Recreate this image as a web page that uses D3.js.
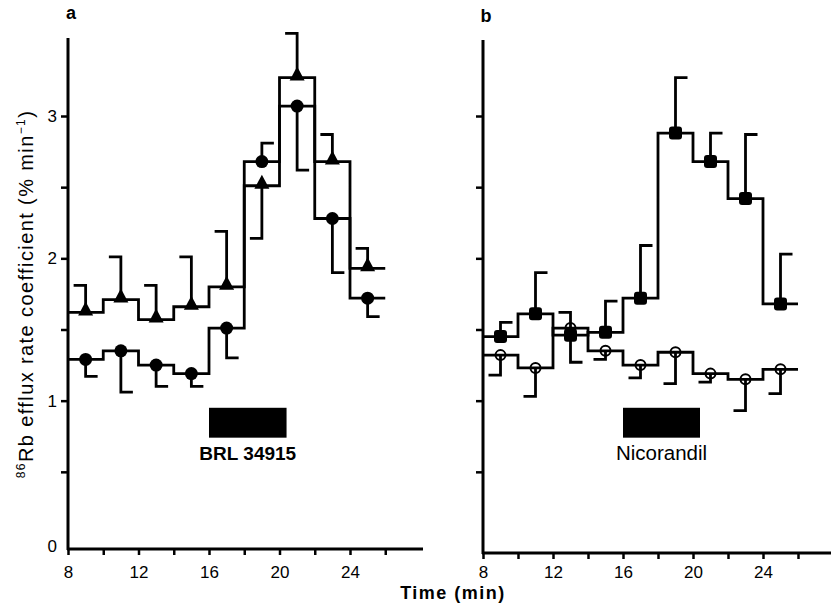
<!DOCTYPE html>
<html>
<head>
<meta charset="utf-8">
<script src="https://cdn.jsdelivr.net/npm/d3@7"></script>
<style>
  body { margin: 0; background: #fff; }
  svg { font-family: "Liberation Sans", Arial, sans-serif; }
</style>
</head>
<body>
<div id="chart"></div>
<script>
// sample times (min), each value covers a 2 min collection period centred on it
const minutes = [9, 11, 13, 15, 17, 19, 21, 23, 25]

// panel a, BRL 34915
const aTriangle = [1.62, 1.71, 1.57, 1.66, 1.80, 2.51, 3.27, 2.68, 1.93]
const aTriangleErr = [0.19, 0.30, 0.24, 0.35, 0.39, -0.37, 0.31, 0.19, 0.14] // sign = side of the bar
const aCircle = [1.29, 1.35, 1.25, 1.19, 1.51, 2.68, 3.07, 2.28, 1.72]
const aCircleErr = [-0.12, -0.29, -0.15, -0.09, -0.21, 0.13, -0.45, -0.38, -0.13]

// panel b, nicorandil
const bSquare = [1.45, 1.61, 1.46, 1.48, 1.72, 2.88, 2.68, 2.42, 1.68]
const bSquareErr = [0.10, 0.29, -0.19, 0.22, 0.37, 0.39, 0.20, 0.45, 0.35]
const bOpen = [1.32, 1.23, 1.51, 1.35, 1.25, 1.34, 1.19, 1.15, 1.22]
const bOpenErr = [-0.14, -0.20, 0.11, -0.06, -0.09, -0.22, -0.06, -0.22, -0.17]

// drug application bars: [start, end] in min, [bottom, top] in rate units
const drugTime = [16, 20.4]
const drugLevel = [0.74, 0.95]
const drugNames = ['BRL 34915', 'Nicorandil']

const xTicks = [8, 10, 12, 14, 16, 18, 20, 22, 24, 26]
const xLabels = [8, 12, 16, 20, 24]
const yTicks = [0.5, 1, 1.5, 2, 2.5, 3]
const yLabels = [0, 1, 2, 3]

const W = 831
const H = 613

const svg = d3.select('#chart').append('svg')
  .attr('width', W)
  .attr('height', H)

const y = d3.scaleLinear().domain([0, 3]).range([543, 116])

const panels = [
  {
    letter: 'a', letterX: 71, letterY: 19, left: 68, axisY: 549, top: 38, right: 423, xRight: 350,
    series: [
      { values: aCircle, err: aCircleErr, cap: 1, marker: 'circle' },
      { values: aTriangle, err: aTriangleErr, cap: -1, marker: 'triangle' }
    ],
    drug: drugNames[0], drugWeight: 'bold', drugSize: 19, labels: true
  },
  {
    letter: 'b', letterX: 486, letterY: 22, left: 483, axisY: 553, top: 40, right: 831, xRight: 763,
    series: [
      { values: bOpen, err: bOpenErr, cap: -1, marker: 'open' },
      { values: bSquare, err: bSquareErr, cap: 1, marker: 'square' }
    ],
    drug: drugNames[1], drugWeight: 'normal', drugSize: 20.5, labels: false
  }
]

panels.forEach(p => {
  const x = d3.scaleLinear().domain([8, 24]).range([p.left, p.xRight])
  const g = svg.append('g')

  // axes
  g.append('line')
    .attr('x1', p.left).attr('x2', p.left)
    .attr('y1', p.top).attr('y2', p.axisY + 1)
    .attr('stroke', '#000').attr('stroke-width', 3)
  g.append('line')
    .attr('x1', p.left - 1).attr('x2', p.right)
    .attr('y1', p.axisY).attr('y2', p.axisY)
    .attr('stroke', '#000').attr('stroke-width', 3)

  const yAxis = g.append('g')
    .attr('transform', `translate(${p.left},0)`)
    .call(d3.axisLeft(y)
      .tickValues(yTicks)
      .tickSize(7)
      .tickPadding(4)
      .tickFormat(d => (p.labels && Number.isInteger(d)) ? d : ''))
  yAxis.select('.domain').remove()
  yAxis.selectAll('.tick line').attr('stroke-width', 2.5)
  yAxis.selectAll('text').attr('font-size', 17).attr('font-family', 'Liberation Sans, Arial, sans-serif')
  if (p.labels) {
    g.append('text')
      .attr('x', p.left - 11).attr('y', y(0) + 4)
      .attr('text-anchor', 'end').attr('dy', '0.32em')
      .attr('font-size', 17)
      .text(yLabels[0])
  }

  // tick label baselines sit at y = 578 in both panels
  const xAxis = g.append('g')
    .attr('transform', `translate(0,${p.axisY})`)
    .call(d3.axisBottom(x)
      .tickValues(xTicks)
      .tickSize(6)
      .tickPadding(560 - p.axisY)
      .tickFormat(d => xLabels.includes(d) ? d : ''))
  xAxis.select('.domain').remove()
  xAxis.selectAll('.tick line').attr('stroke-width', 2.5)
  xAxis.selectAll('text').attr('font-size', 17).attr('font-family', 'Liberation Sans, Arial, sans-serif')

  // panel letter
  g.append('text')
    .attr('x', p.letterX).attr('y', p.letterY)
    .attr('text-anchor', 'middle')
    .attr('font-size', 18).attr('font-weight', 'bold')
    .text(p.letter)

  // drug bar
  g.append('rect')
    .attr('x', x(drugTime[0])).attr('y', y(drugLevel[1]))
    .attr('width', x(drugTime[1]) - x(drugTime[0]))
    .attr('height', y(drugLevel[0]) - y(drugLevel[1]))
    .attr('fill', '#000')
  g.append('text')
    .attr('x', (x(drugTime[0]) + x(drugTime[1])) / 2)
    .attr('y', 460)
    .attr('text-anchor', 'middle')
    .attr('font-size', p.drugSize).attr('font-weight', p.drugWeight)
    .text(p.drug)

  const line = d3.line().x(d => x(d[0])).y(d => y(d[1]))

  p.series.forEach(s => {
    const pts = []
    minutes.forEach((m, i) => {
      pts.push([m - 1, s.values[i]])
      pts.push([m + 1, s.values[i]])
    })
    g.append('path')
      .attr('d', line(pts))
      .attr('fill', 'none')
      .attr('stroke', '#000')
      .attr('stroke-width', 2.8)

    // error bars with one-sided caps
    minutes.forEach((m, i) => {
      const cx = x(m)
      const y0 = y(s.values[i])
      const y1 = y(s.values[i] + s.err[i])
      g.append('path')
        .attr('d', `M${cx},${y0}V${y1}h${s.cap * 12}`)
        .attr('fill', 'none')
        .attr('stroke', '#000')
        .attr('stroke-width', 2.8)
    })
  })

  p.series.forEach(s => {
    minutes.forEach((m, i) => {
      const cx = x(m)
      const cy = y(s.values[i])
      if (s.marker === 'circle') {
        g.append('circle').attr('cx', cx).attr('cy', cy).attr('r', 6.5).attr('fill', '#000')
      } else if (s.marker === 'triangle') {
        g.append('path')
          .attr('d', `M${cx},${cy - 11}L${cx + 7.5},${cy + 3}L${cx - 7.5},${cy + 3}Z`)
          .attr('fill', '#000')
      } else if (s.marker === 'square') {
        g.append('rect')
          .attr('x', cx - 6.5).attr('y', cy - 6.5)
          .attr('width', 13).attr('height', 13)
          .attr('rx', 3)
          .attr('fill', '#000')
      } else {
        g.append('circle').attr('cx', cx).attr('cy', cy).attr('r', 5)
          .attr('fill', 'none').attr('stroke', '#000').attr('stroke-width', 2)
      }
    })
  })
})

// y axis label
const yl = svg.append('text')
  .attr('transform', 'translate(33,294) rotate(-90)')
  .attr('text-anchor', 'middle')
  .attr('font-size', 20)
  .attr('letter-spacing', 1.4)
yl.append('tspan').attr('font-size', 12).attr('dy', -8).text('86')
yl.append('tspan').attr('dy', 8).text('Rb efflux rate coefficient (% min')
yl.append('tspan').attr('font-size', 12).attr('dy', -8).text('−1')
yl.append('tspan').attr('dy', 8).text(')')

// x axis label
svg.append('text')
  .attr('x', 453).attr('y', 599)
  .attr('text-anchor', 'middle')
  .attr('font-size', 18).attr('font-weight', 'bold')
  .attr('letter-spacing', 1.5)
  .text('Time (min)')
</script>
</body>
</html>
